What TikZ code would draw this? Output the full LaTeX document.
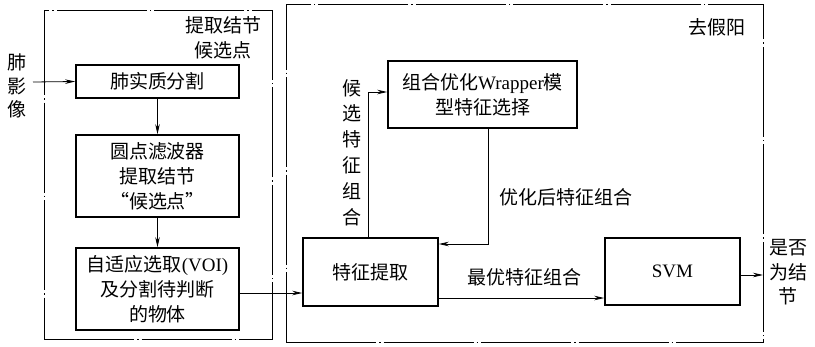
\documentclass[tikz,border=0pt]{standalone}
\usepackage{fontspec}
\setmainfont{Liberation Serif}
\newfontfamily\cjk{Noto Sans CJK SC}
\usetikzlibrary{arrows.meta}
\begin{document}
\begin{tikzpicture}[x=1pt,y=-1pt,
  every node/.style={font=\cjk\fontsize{19}{25}\selectfont, inner sep=0pt},
  box/.style={draw, line width=1.6pt, align=center},
  frame/.style={draw, line width=0.8pt, dash pattern=on 90pt off 3pt on 1.5pt off 3pt, minimum width=#1},
  arr/.style={line width=0.8pt, -{Stealth[length=10pt,width=4.5pt]}},
  lbl/.style={align=center}]
\useasboundingbox (0,0) rectangle (815,346);
% frames
\node[frame=228pt, minimum height=329pt] (lf) at (158,174.5) {};
\node[frame=477pt, minimum height=338pt] (rf) at (524.5,173) {};
% boxes
\node[box, minimum width=163pt, minimum height=33pt] (b1) at (157.5,81.5) {肺实质分割};
\node[box, minimum width=163pt, minimum height=82pt] (b2) at (157.5,176) {圆点滤波器\\提取结节\\“候选点”};
\node[box, minimum width=163pt, minimum height=82pt] (b3) at (157.5,289) {自适应选取\textrm{(VOI)}\\及分割待判断\\的物体};
\node[box, minimum width=189pt, minimum height=67pt] (wr) at (482.5,94.5) {组合优化\textrm{Wrapper}模\\型特征选择};
\node[box, minimum width=135pt, minimum height=68pt] (fe) at (370.5,272) {特征提取};
\node[box, minimum width=135pt, minimum height=67pt] (svm) at (672.5,271.5) {\textrm{SVM}};
% labels
\node[lbl] (l1) at (223,37.5) {提取结节\\候选点};
\node[lbl, font=\cjk\fontsize{19}{23.5}\selectfont] (l2) at (17,86) {肺\\影\\像};
\node[lbl, font=\cjk\fontsize{19}{25.8}\selectfont] (l3) at (352,152.5) {候\\选\\特\\征\\组\\合};
\node[lbl] (l4) at (566,197) {优化后特征组合};
\node[lbl] (l5) at (524,277) {最优特征组合};
\node[lbl] (l6) at (717,27) {去假阳};
\node[lbl, font=\cjk\fontsize{19}{24.5}\selectfont] (l7) at (788,272.5) {是否\\为结\\节};
% connectors
\coordinate (in) at (33,82);
\coordinate (out) at (763,275);
\draw[arr] (in) -- (b1.west);
\draw[arr] (b1.south) -- (b2.north);
\draw[arr] (b2.south) -- (b3.north);
\draw[arr] ([yshift=-4pt]b3.east) -- ([yshift=-4pt]b3.east -| fe.west);
\draw[arr] ([xshift=-2.5pt]fe.north) |- ([yshift=2.5pt]wr.west);
\draw[arr] ([xshift=5.5pt]wr.south) |- ([yshift=28pt]fe.east);
\draw[arr] ([yshift=-26pt]fe.east) -- ([yshift=-26pt]fe.east -| svm.west);
\draw[arr] ([yshift=-3.5pt]svm.east) -- (out);
\end{tikzpicture}
\end{document}
